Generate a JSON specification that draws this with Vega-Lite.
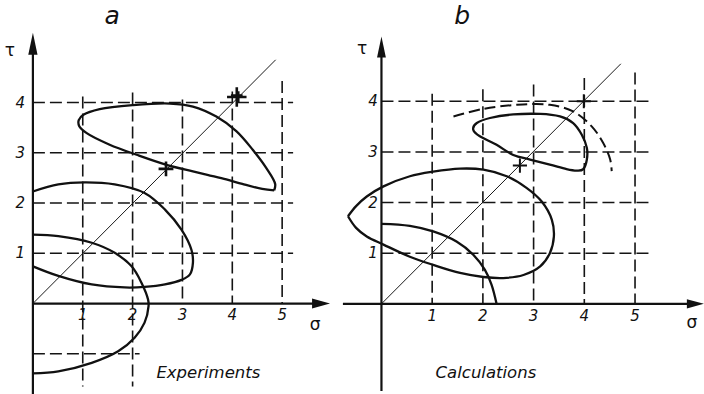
{
  "$schema": "https://vega.github.io/schema/vega-lite/v6.json",
  "background": "white",
  "padding": 0,
  "spacing": 17,
  "bounds": "flush",
  "config": {"view": {"stroke": null}, "font": "DejaVu Sans"},
  "datasets": {
    "curves": [
      {"p": "a", "c": "a1", "i": 0, "s": 4.84, "t": 2.25},
      {"p": "a", "c": "a1", "i": 1, "s": 4.6, "t": 2.28},
      {"p": "a", "c": "a1", "i": 2, "s": 4.2, "t": 2.38},
      {"p": "a", "c": "a1", "i": 3, "s": 3.88, "t": 2.47},
      {"p": "a", "c": "a1", "i": 4, "s": 3.5, "t": 2.56},
      {"p": "a", "c": "a1", "i": 5, "s": 3.21, "t": 2.63},
      {"p": "a", "c": "a1", "i": 6, "s": 2.68, "t": 2.76},
      {"p": "a", "c": "a1", "i": 7, "s": 2.08, "t": 2.96},
      {"p": "a", "c": "a1", "i": 8, "s": 1.54, "t": 3.16},
      {"p": "a", "c": "a1", "i": 9, "s": 1.08, "t": 3.39},
      {"p": "a", "c": "a1", "i": 10, "s": 0.93, "t": 3.53},
      {"p": "a", "c": "a1", "i": 11, "s": 0.92, "t": 3.65},
      {"p": "a", "c": "a1", "i": 12, "s": 1.02, "t": 3.76},
      {"p": "a", "c": "a1", "i": 13, "s": 1.34, "t": 3.87},
      {"p": "a", "c": "a1", "i": 14, "s": 2.01, "t": 3.95},
      {"p": "a", "c": "a1", "i": 15, "s": 2.75, "t": 3.98},
      {"p": "a", "c": "a1", "i": 16, "s": 3.21, "t": 3.92},
      {"p": "a", "c": "a1", "i": 17, "s": 3.68, "t": 3.72},
      {"p": "a", "c": "a1", "i": 18, "s": 4.08, "t": 3.43},
      {"p": "a", "c": "a1", "i": 19, "s": 4.41, "t": 3.06},
      {"p": "a", "c": "a1", "i": 20, "s": 4.68, "t": 2.7},
      {"p": "a", "c": "a1", "i": 21, "s": 4.86, "t": 2.38},
      {"p": "a", "c": "a1", "i": 22, "s": 4.84, "t": 2.25},

      {"p": "a", "c": "a2", "i": 0, "s": 0, "t": 2.23},
      {"p": "a", "c": "a2", "i": 1, "s": 0.51, "t": 2.37},
      {"p": "a", "c": "a2", "i": 2, "s": 1.04, "t": 2.41},
      {"p": "a", "c": "a2", "i": 3, "s": 1.64, "t": 2.37},
      {"p": "a", "c": "a2", "i": 4, "s": 2.24, "t": 2.2},
      {"p": "a", "c": "a2", "i": 5, "s": 2.65, "t": 1.87},
      {"p": "a", "c": "a2", "i": 6, "s": 2.98, "t": 1.47},
      {"p": "a", "c": "a2", "i": 7, "s": 3.18, "t": 1.07},
      {"p": "a", "c": "a2", "i": 8, "s": 3.21, "t": 0.81},
      {"p": "a", "c": "a2", "i": 9, "s": 3.15, "t": 0.58},
      {"p": "a", "c": "a2", "i": 10, "s": 2.98, "t": 0.47},
      {"p": "a", "c": "a2", "i": 11, "s": 2.65, "t": 0.38},
      {"p": "a", "c": "a2", "i": 12, "s": 2.24, "t": 0.33},
      {"p": "a", "c": "a2", "i": 13, "s": 1.84, "t": 0.32},
      {"p": "a", "c": "a2", "i": 14, "s": 1.18, "t": 0.38},
      {"p": "a", "c": "a2", "i": 15, "s": 0.51, "t": 0.55},
      {"p": "a", "c": "a2", "i": 16, "s": 0, "t": 0.74},

      {"p": "a", "c": "a3", "i": 0, "s": 0, "t": 1.37},
      {"p": "a", "c": "a3", "i": 1, "s": 0.51, "t": 1.34},
      {"p": "a", "c": "a3", "i": 2, "s": 1.18, "t": 1.21},
      {"p": "a", "c": "a3", "i": 3, "s": 1.64, "t": 1.01},
      {"p": "a", "c": "a3", "i": 4, "s": 1.98, "t": 0.74},
      {"p": "a", "c": "a3", "i": 5, "s": 2.18, "t": 0.41},
      {"p": "a", "c": "a3", "i": 6, "s": 2.31, "t": 0.08},
      {"p": "a", "c": "a3", "i": 7, "s": 2.32, "t": -0.05},
      {"p": "a", "c": "a3", "i": 8, "s": 2.24, "t": -0.38},
      {"p": "a", "c": "a3", "i": 9, "s": 2.04, "t": -0.68},
      {"p": "a", "c": "a3", "i": 10, "s": 1.71, "t": -0.95},
      {"p": "a", "c": "a3", "i": 11, "s": 1.18, "t": -1.18},
      {"p": "a", "c": "a3", "i": 12, "s": 0.51, "t": -1.35},
      {"p": "a", "c": "a3", "i": 13, "s": 0, "t": -1.39},

      {"p": "b", "c": "b1", "i": 0, "s": -0.66, "t": 1.73},
      {"p": "b", "c": "b1", "i": 1, "s": -0.5, "t": 1.93},
      {"p": "b", "c": "b1", "i": 2, "s": -0.29, "t": 2.12},
      {"p": "b", "c": "b1", "i": 3, "s": 0.04, "t": 2.32},
      {"p": "b", "c": "b1", "i": 4, "s": 0.56, "t": 2.52},
      {"p": "b", "c": "b1", "i": 5, "s": 1.02, "t": 2.61},
      {"p": "b", "c": "b1", "i": 6, "s": 1.55, "t": 2.67},
      {"p": "b", "c": "b1", "i": 7, "s": 2.01, "t": 2.65},
      {"p": "b", "c": "b1", "i": 8, "s": 2.47, "t": 2.52},
      {"p": "b", "c": "b1", "i": 9, "s": 2.86, "t": 2.29},
      {"p": "b", "c": "b1", "i": 10, "s": 3.16, "t": 2.02},
      {"p": "b", "c": "b1", "i": 11, "s": 3.36, "t": 1.66},
      {"p": "b", "c": "b1", "i": 12, "s": 3.4, "t": 1.33},
      {"p": "b", "c": "b1", "i": 13, "s": 3.32, "t": 1.0},
      {"p": "b", "c": "b1", "i": 14, "s": 3.13, "t": 0.74},
      {"p": "b", "c": "b1", "i": 15, "s": 2.8, "t": 0.57},
      {"p": "b", "c": "b1", "i": 16, "s": 2.4, "t": 0.51},
      {"p": "b", "c": "b1", "i": 17, "s": 2.01, "t": 0.53},
      {"p": "b", "c": "b1", "i": 18, "s": 1.55, "t": 0.61},
      {"p": "b", "c": "b1", "i": 19, "s": 1.02, "t": 0.77},
      {"p": "b", "c": "b1", "i": 20, "s": 0.56, "t": 0.93},
      {"p": "b", "c": "b1", "i": 21, "s": 0.04, "t": 1.17},
      {"p": "b", "c": "b1", "i": 22, "s": -0.29, "t": 1.33},
      {"p": "b", "c": "b1", "i": 23, "s": -0.5, "t": 1.5},
      {"p": "b", "c": "b1", "i": 24, "s": -0.66, "t": 1.73},

      {"p": "b", "c": "b2", "i": 0, "s": 0, "t": 1.58},
      {"p": "b", "c": "b2", "i": 1, "s": 0.56, "t": 1.54},
      {"p": "b", "c": "b2", "i": 2, "s": 1.02, "t": 1.43},
      {"p": "b", "c": "b2", "i": 3, "s": 1.48, "t": 1.23},
      {"p": "b", "c": "b2", "i": 4, "s": 1.81, "t": 0.97},
      {"p": "b", "c": "b2", "i": 5, "s": 2.04, "t": 0.67},
      {"p": "b", "c": "b2", "i": 6, "s": 2.17, "t": 0.38},
      {"p": "b", "c": "b2", "i": 7, "s": 2.27, "t": 0},

      {"p": "b", "c": "b3", "i": 0, "s": 1.81, "t": 3.44},
      {"p": "b", "c": "b3", "i": 1, "s": 1.88, "t": 3.57},
      {"p": "b", "c": "b3", "i": 2, "s": 2.14, "t": 3.67},
      {"p": "b", "c": "b3", "i": 3, "s": 2.6, "t": 3.74},
      {"p": "b", "c": "b3", "i": 4, "s": 3.13, "t": 3.75},
      {"p": "b", "c": "b3", "i": 5, "s": 3.52, "t": 3.7},
      {"p": "b", "c": "b3", "i": 6, "s": 3.78, "t": 3.57},
      {"p": "b", "c": "b3", "i": 7, "s": 3.95, "t": 3.34},
      {"p": "b", "c": "b3", "i": 8, "s": 4.05, "t": 3.08},
      {"p": "b", "c": "b3", "i": 9, "s": 4.05, "t": 2.85},
      {"p": "b", "c": "b3", "i": 10, "s": 3.98, "t": 2.66},
      {"p": "b", "c": "b3", "i": 11, "s": 3.85, "t": 2.63},
      {"p": "b", "c": "b3", "i": 12, "s": 3.65, "t": 2.66},
      {"p": "b", "c": "b3", "i": 13, "s": 3.32, "t": 2.75},
      {"p": "b", "c": "b3", "i": 14, "s": 2.93, "t": 2.85},
      {"p": "b", "c": "b3", "i": 15, "s": 2.6, "t": 2.94},
      {"p": "b", "c": "b3", "i": 16, "s": 2.27, "t": 3.14},
      {"p": "b", "c": "b3", "i": 17, "s": 1.94, "t": 3.31},

      {"p": "b", "c": "b4", "i": 0, "s": 1.42, "t": 3.7},
      {"p": "b", "c": "b4", "i": 1, "s": 2.01, "t": 3.85},
      {"p": "b", "c": "b4", "i": 2, "s": 2.67, "t": 3.93},
      {"p": "b", "c": "b4", "i": 3, "s": 3.32, "t": 3.93},
      {"p": "b", "c": "b4", "i": 4, "s": 3.78, "t": 3.8},
      {"p": "b", "c": "b4", "i": 5, "s": 4.15, "t": 3.5},
      {"p": "b", "c": "b4", "i": 6, "s": 4.37, "t": 3.18},
      {"p": "b", "c": "b4", "i": 7, "s": 4.51, "t": 2.85},
      {"p": "b", "c": "b4", "i": 8, "s": 4.54, "t": 2.62}
    ],
    "lines": [
      {"p": "a", "g": "grid", "s": 0, "t": 1, "s2": 5.22, "t2": 1},
      {"p": "a", "g": "grid", "s": 0, "t": 2, "s2": 5.22, "t2": 2},
      {"p": "a", "g": "grid", "s": 0, "t": 3, "s2": 5.22, "t2": 3},
      {"p": "a", "g": "grid", "s": 0, "t": 4, "s2": 5.22, "t2": 4},
      {"p": "a", "g": "grid", "s": 0, "t": -1, "s2": 2.14, "t2": -1},
      {"p": "a", "g": "grid", "s": 1, "t": 4.12, "s2": 1, "t2": -1.65},
      {"p": "a", "g": "grid", "s": 2, "t": 4.2, "s2": 2, "t2": -1.65},
      {"p": "a", "g": "grid", "s": 3, "t": 4.06, "s2": 3, "t2": 0},
      {"p": "a", "g": "grid", "s": 4, "t": 4.22, "s2": 4, "t2": 0},
      {"p": "a", "g": "grid", "s": 5, "t": 4.43, "s2": 5, "t2": 0},
      {"p": "a", "g": "axis", "s": 0, "t": 0, "s2": 5.75, "t2": 0},
      {"p": "a", "g": "axis", "s": 0, "t": -1.8, "s2": 0, "t2": 5.0},
      {"p": "a", "g": "diag", "s": 0, "t": 0, "s2": 4.87, "t2": 4.85},
      {"p": "b", "g": "grid", "s": 0, "t": 1, "s2": 5.27, "t2": 1},
      {"p": "b", "g": "grid", "s": 0, "t": 2, "s2": 5.27, "t2": 2},
      {"p": "b", "g": "grid", "s": 0, "t": 3, "s2": 5.27, "t2": 3},
      {"p": "b", "g": "grid", "s": 0, "t": 4, "s2": 5.27, "t2": 4},
      {"p": "b", "g": "grid", "s": 1, "t": 4.15, "s2": 1, "t2": 0},
      {"p": "b", "g": "grid", "s": 2, "t": 4.24, "s2": 2, "t2": 0},
      {"p": "b", "g": "grid", "s": 3, "t": 4.33, "s2": 3, "t2": 0},
      {"p": "b", "g": "grid", "s": 4, "t": 4.46, "s2": 4, "t2": 0},
      {"p": "b", "g": "grid", "s": 5, "t": 4.57, "s2": 5, "t2": 0},
      {"p": "b", "g": "axis", "s": -0.76, "t": 0, "s2": 6.1, "t2": 0},
      {"p": "b", "g": "axis", "s": 0, "t": -1.72, "s2": 0, "t2": 4.9},
      {"p": "b", "g": "diag", "s": 0, "t": 0, "s2": 4.72, "t2": 4.74}
    ],
    "crosses": [
      {"p": "a", "k": "big", "s": 4.09, "t": 4.11},
      {"p": "a", "k": "small", "s": 2.67, "t": 2.68},
      {"p": "b", "k": "small", "s": 3.99, "t": 4.0},
      {"p": "b", "k": "small", "s": 2.73, "t": 2.73}
    ],
    "arrows": [
      {"p": "a", "dir": "up", "s": 0, "t": 5.17},
      {"p": "a", "dir": "right", "s": 5.78, "t": 0},
      {"p": "b", "dir": "up", "s": 0, "t": 5.07},
      {"p": "b", "dir": "right", "s": 6.19, "t": 0}
    ],
    "labels": [
      {"p": "a", "k": "xtick", "s": 1, "t": -0.22, "txt": "1"},
      {"p": "a", "k": "xtick", "s": 2, "t": -0.22, "txt": "2"},
      {"p": "a", "k": "xtick", "s": 3, "t": -0.22, "txt": "3"},
      {"p": "a", "k": "xtick", "s": 4, "t": -0.22, "txt": "4"},
      {"p": "a", "k": "xtick", "s": 5, "t": -0.22, "txt": "5"},
      {"p": "a", "k": "ytick", "s": -0.16, "t": 1, "txt": "1"},
      {"p": "a", "k": "ytick", "s": -0.16, "t": 2, "txt": "2"},
      {"p": "a", "k": "ytick", "s": -0.16, "t": 3, "txt": "3"},
      {"p": "a", "k": "ytick", "s": -0.16, "t": 4, "txt": "4"},
      {"p": "a", "k": "title", "s": 1.59, "t": 5.72, "txt": "a"},
      {"p": "a", "k": "sym", "s": -0.46, "t": 5.03, "txt": "τ"},
      {"p": "a", "k": "sym", "s": 5.66, "t": -0.42, "txt": "σ"},
      {"p": "a", "k": "note", "s": 3.52, "t": -1.38, "txt": "Experiments"},
      {"p": "b", "k": "xtick", "s": 1, "t": -0.24, "txt": "1"},
      {"p": "b", "k": "xtick", "s": 2, "t": -0.24, "txt": "2"},
      {"p": "b", "k": "xtick", "s": 3, "t": -0.24, "txt": "3"},
      {"p": "b", "k": "xtick", "s": 4, "t": -0.24, "txt": "4"},
      {"p": "b", "k": "xtick", "s": 5, "t": -0.24, "txt": "5"},
      {"p": "b", "k": "ytick", "s": -0.07, "t": 1, "txt": "1"},
      {"p": "b", "k": "ytick", "s": -0.07, "t": 2, "txt": "2"},
      {"p": "b", "k": "ytick", "s": -0.07, "t": 3, "txt": "3"},
      {"p": "b", "k": "ytick", "s": -0.07, "t": 4, "txt": "4"},
      {"p": "b", "k": "title", "s": 1.59, "t": 5.68, "txt": "b"},
      {"p": "b", "k": "sym", "s": -0.38, "t": 5.03, "txt": "τ"},
      {"p": "b", "k": "sym", "s": 6.12, "t": -0.38, "txt": "σ"},
      {"p": "b", "k": "note", "s": 2.06, "t": -1.36, "txt": "Calculations"}
    ]
  },
  "hconcat": [
    {
      "width": 332,
      "height": 394,
      "encoding": {
        "x": {"field": "s", "type": "quantitative", "scale": {"domain": [-0.66, 6.0], "nice": false, "zero": false}, "axis": null},
        "y": {"field": "t", "type": "quantitative", "scale": {"domain": [-1.8, 6.04], "nice": false, "zero": false}, "axis": null}
      },
      "layer": [
        {"data": {"name": "lines"}, "transform": [{"filter": "datum.p == 'a' && datum.g == 'grid'"}],
         "mark": {"type": "rule", "strokeDash": [12, 5], "strokeWidth": 1.6, "color": "#141414"},
         "encoding": {"x2": {"field": "s2"}, "y2": {"field": "t2"}}},
        {"data": {"name": "lines"}, "transform": [{"filter": "datum.p == 'a' && datum.g == 'diag'"}],
         "mark": {"type": "rule", "strokeWidth": 1, "color": "#1a1a1a"},
         "encoding": {"x2": {"field": "s2"}, "y2": {"field": "t2"}}},
        {"data": {"name": "lines"}, "transform": [{"filter": "datum.p == 'a' && datum.g == 'axis'"}],
         "mark": {"type": "rule", "strokeWidth": 2.2, "color": "#111"},
         "encoding": {"x2": {"field": "s2"}, "y2": {"field": "t2"}}},
        {"data": {"name": "curves"}, "transform": [{"filter": "datum.p == 'a'"}],
         "mark": {"type": "line", "interpolate": "catmull-rom", "strokeWidth": 2.3, "color": "#111"},
         "encoding": {"detail": {"field": "c"}, "order": {"field": "i", "type": "quantitative"}}},
        {"data": {"name": "crosses"}, "transform": [{"filter": "datum.p == 'a' && datum.k == 'big'"}],
         "mark": {"type": "point", "shape": "M-1,0H1M0,-1V1M-0.6,-0.15H0.6M0.15,-0.6V0.6", "size": 380, "filled": false, "strokeWidth": 2.6, "color": "#111", "opacity": 1}},
        {"data": {"name": "crosses"}, "transform": [{"filter": "datum.p == 'a' && datum.k == 'small'"}],
         "mark": {"type": "point", "shape": "M-1,0H1M0,-1V1", "size": 220, "filled": false, "strokeWidth": 2.6, "color": "#111", "opacity": 1}},
        {"data": {"name": "arrows"}, "transform": [{"filter": "datum.p == 'a' && datum.dir == 'up'"}],
         "mark": {"type": "point", "shape": "M0,-1L0.42,1L-0.42,1Z", "size": 484, "filled": true, "color": "#111", "opacity": 1}},
        {"data": {"name": "arrows"}, "transform": [{"filter": "datum.p == 'a' && datum.dir == 'right'"}],
         "mark": {"type": "point", "shape": "M1,0L-1,-0.55L-1,0.55Z", "size": 324, "filled": true, "color": "#111", "opacity": 1}},
        {"data": {"name": "labels"}, "transform": [{"filter": "datum.p == 'a' && datum.k == 'xtick'"}],
         "mark": {"type": "text", "fontSize": 15, "fontStyle": "italic", "align": "center", "baseline": "middle", "color": "#111"},
         "encoding": {"text": {"field": "txt"}}},
        {"data": {"name": "labels"}, "transform": [{"filter": "datum.p == 'a' && datum.k == 'ytick'"}],
         "mark": {"type": "text", "fontSize": 15, "fontStyle": "italic", "align": "right", "baseline": "middle", "color": "#111"},
         "encoding": {"text": {"field": "txt"}}},
        {"data": {"name": "labels"}, "transform": [{"filter": "datum.p == 'a' && datum.k == 'title'"}],
         "mark": {"type": "text", "fontSize": 25, "fontStyle": "italic", "align": "center", "baseline": "middle", "color": "#111"},
         "encoding": {"text": {"field": "txt"}}},
        {"data": {"name": "labels"}, "transform": [{"filter": "datum.p == 'a' && datum.k == 'sym'"}],
         "mark": {"type": "text", "fontSize": 17, "align": "center", "baseline": "middle", "color": "#111"},
         "encoding": {"text": {"field": "txt"}}},
        {"data": {"name": "labels"}, "transform": [{"filter": "datum.p == 'a' && datum.k == 'note'"}],
         "mark": {"type": "text", "fontSize": 16.5, "fontStyle": "italic", "align": "center", "baseline": "middle", "color": "#111"},
         "encoding": {"text": {"field": "txt"}}}
      ]
    },
    {
      "width": 355,
      "height": 394,
      "encoding": {
        "x": {"field": "s", "type": "quantitative", "scale": {"domain": [-0.64, 6.36], "nice": false, "zero": false}, "axis": null},
        "y": {"field": "t", "type": "quantitative", "scale": {"domain": [-1.78, 6.0], "nice": false, "zero": false}, "axis": null}
      },
      "layer": [
        {"data": {"name": "lines"}, "transform": [{"filter": "datum.p == 'b' && datum.g == 'grid'"}],
         "mark": {"type": "rule", "strokeDash": [12, 5], "strokeWidth": 1.6, "color": "#141414"},
         "encoding": {"x2": {"field": "s2"}, "y2": {"field": "t2"}}},
        {"data": {"name": "lines"}, "transform": [{"filter": "datum.p == 'b' && datum.g == 'diag'"}],
         "mark": {"type": "rule", "strokeWidth": 1, "color": "#1a1a1a"},
         "encoding": {"x2": {"field": "s2"}, "y2": {"field": "t2"}}},
        {"data": {"name": "lines"}, "transform": [{"filter": "datum.p == 'b' && datum.g == 'axis'"}],
         "mark": {"type": "rule", "strokeWidth": 2.2, "color": "#111"},
         "encoding": {"x2": {"field": "s2"}, "y2": {"field": "t2"}}},
        {"data": {"name": "curves"}, "transform": [{"filter": "datum.c == 'b1' || datum.c == 'b2'"}],
         "mark": {"type": "line", "interpolate": "catmull-rom", "strokeWidth": 2.3, "color": "#111"},
         "encoding": {"detail": {"field": "c"}, "order": {"field": "i", "type": "quantitative"}}},
        {"data": {"name": "curves"}, "transform": [{"filter": "datum.c == 'b3'"}],
         "mark": {"type": "line", "interpolate": "cardinal-closed", "strokeWidth": 2.3, "color": "#111"},
         "encoding": {"order": {"field": "i", "type": "quantitative"}}},
        {"data": {"name": "curves"}, "transform": [{"filter": "datum.c == 'b4'"}],
         "mark": {"type": "line", "interpolate": "catmull-rom", "strokeWidth": 2, "strokeDash": [11, 5], "color": "#111"},
         "encoding": {"order": {"field": "i", "type": "quantitative"}}},
        {"data": {"name": "crosses"}, "transform": [{"filter": "datum.p == 'b'"}],
         "mark": {"type": "point", "shape": "M-1,0H1M0,-1V1", "size": 200, "filled": false, "strokeWidth": 2, "color": "#111", "opacity": 1}},
        {"data": {"name": "arrows"}, "transform": [{"filter": "datum.p == 'b' && datum.dir == 'up'"}],
         "mark": {"type": "point", "shape": "M0,-1L0.42,1L-0.42,1Z", "size": 441, "filled": true, "color": "#111", "opacity": 1}},
        {"data": {"name": "arrows"}, "transform": [{"filter": "datum.p == 'b' && datum.dir == 'right'"}],
         "mark": {"type": "point", "shape": "M1,0L-1,-0.55L-1,0.55Z", "size": 289, "filled": true, "color": "#111", "opacity": 1}},
        {"data": {"name": "labels"}, "transform": [{"filter": "datum.p == 'b' && datum.k == 'xtick'"}],
         "mark": {"type": "text", "fontSize": 15, "fontStyle": "italic", "align": "center", "baseline": "middle", "color": "#111"},
         "encoding": {"text": {"field": "txt"}}},
        {"data": {"name": "labels"}, "transform": [{"filter": "datum.p == 'b' && datum.k == 'ytick'"}],
         "mark": {"type": "text", "fontSize": 15, "fontStyle": "italic", "align": "right", "baseline": "middle", "color": "#111"},
         "encoding": {"text": {"field": "txt"}}},
        {"data": {"name": "labels"}, "transform": [{"filter": "datum.p == 'b' && datum.k == 'title'"}],
         "mark": {"type": "text", "fontSize": 25, "fontStyle": "italic", "align": "center", "baseline": "middle", "color": "#111"},
         "encoding": {"text": {"field": "txt"}}},
        {"data": {"name": "labels"}, "transform": [{"filter": "datum.p == 'b' && datum.k == 'sym'"}],
         "mark": {"type": "text", "fontSize": 17, "align": "center", "baseline": "middle", "color": "#111"},
         "encoding": {"text": {"field": "txt"}}},
        {"data": {"name": "labels"}, "transform": [{"filter": "datum.p == 'b' && datum.k == 'note'"}],
         "mark": {"type": "text", "fontSize": 16.5, "fontStyle": "italic", "align": "center", "baseline": "middle", "color": "#111"},
         "encoding": {"text": {"field": "txt"}}}
      ]
    }
  ]
}
